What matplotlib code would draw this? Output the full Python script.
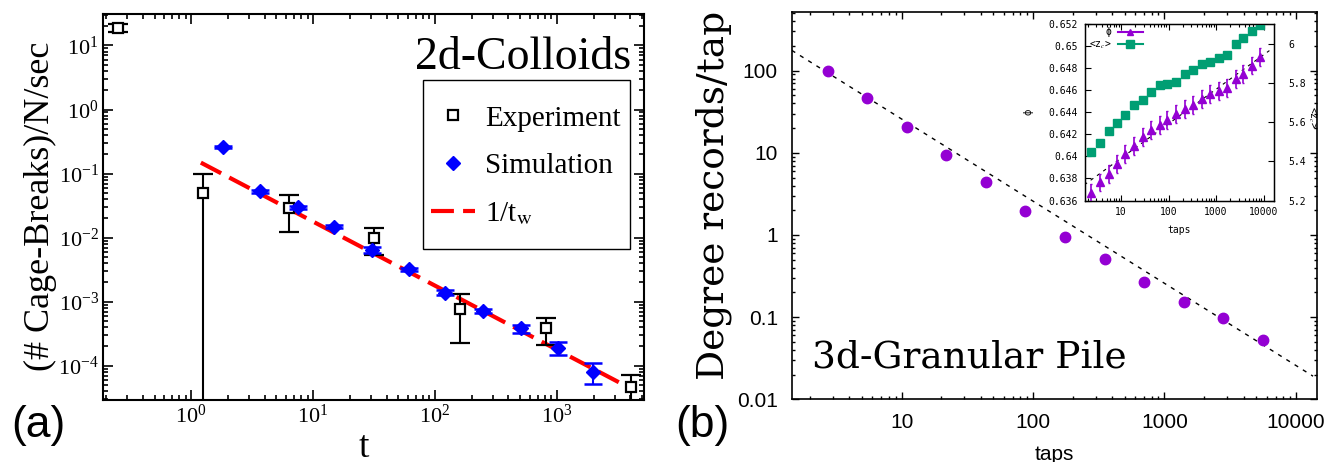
import numpy as np
import matplotlib
matplotlib.use('Agg')
import matplotlib.pyplot as plt
import matplotlib.ticker as ticker
import matplotlib.patches as ptch
from matplotlib.lines import Line2D

# SET DATA
# panel (a): 2d colloids, cage breaks per particle per second
exp_t = [0.249, 1.24, 6.3, 31.6, 161, 813, 4080]
exp_rate = [19.0, 0.050, 0.0286, 0.00975, 7.8e-4, 3.86e-4, 4.6e-5]
exp_lo = [16.5, 1e-6, 0.0124, 0.0054, 2.28e-4, 2.12e-4, 1e-6]
exp_hi = [21.7, 0.10, 0.046, 0.0141, 1.34e-3, 5.5e-4, 7.2e-5]

sim_t = [1.84, 3.68, 7.45, 14.9, 30.4, 60.6, 121, 247, 505, 1016, 1995]
sim_rate = [0.258, 0.053, 0.030, 0.0148, 0.0064, 0.0032, 0.00139, 7.2e-4, 3.9e-4, 1.9e-4, 8.0e-5]
sim_lo = [0.250, 0.050, 0.0285, 0.0140, 0.0057, 0.0030, 0.00127, 6.7e-4, 3.3e-4, 1.48e-4, 5.2e-5]
sim_hi = [0.266, 0.056, 0.0315, 0.0157, 0.0071, 0.0034, 0.00152, 7.8e-4, 4.4e-4, 2.35e-4, 1.1e-4]

tw_range = [1.2, 4300]   # extent of the 1/t_w guide
tw_amp = 0.178

# panel (b): 3d granular pile, degree records per tap
taps = [2.77, 5.5, 11.0, 21.9, 44, 87.3, 175, 350, 702, 1406, 2794, 5600]
records = [100, 46.9, 20.8, 9.4, 4.37, 1.94, 0.955, 0.506, 0.27, 0.152, 0.097, 0.052]
rec_range = [1.46, 13500]
rec_amp = 258

# inset of (b): packing fraction and mean contact number
in_taps = [2.37, 3.56, 5.55, 8.2, 12.4, 18.9, 28.5, 43, 64.6, 94, 142, 220,
           332, 500, 752, 1133, 1706, 2566, 3740, 5620, 8470]
phi = [0.63672, 0.63763, 0.63842, 0.63929, 0.6402, 0.64095, 0.64174, 0.6424,
       0.64285, 0.6433, 0.64382, 0.64427, 0.64466, 0.64518, 0.64563, 0.64593,
       0.64617, 0.64699, 0.64747, 0.6482, 0.64895]
phi_err = 0.0008
zc = [5.446, 5.493, 5.553, 5.594, 5.637, 5.686, 5.713, 5.756, 5.788, 5.795,
      5.806, 5.846, 5.869, 5.898, 5.906, 5.927, 5.942, 6.0, 6.031, 6.067, 6.097]
phi_fit_range = [1.7, 13200]
phi_fit_a = 0.63670   # phi = a + b*log10(taps)
phi_fit_b = 0.00312

purple = '#9400d3'
green = '#009e73'

# SETUP FIGURE
plt.rcParams['mathtext.fontset'] = 'stix'
plt.rcParams['font.family'] = 'Liberation Serif'
fig = plt.figure(figsize=(13.36, 4.62), dpi=100)

# ---------------- panel (a)
ax1 = fig.add_axes([0.0771, 0.1342, 0.4049, 0.8355])
ax1.set_xscale('log')
ax1.set_yscale('log')
ax1.set_xlim(0.189, 5175)
ax1.set_ylim(2.92e-5, 31)

t_fit = np.array(tw_range)
ax1.plot(t_fit, tw_amp / t_fit, color='#ff0000', lw=3, dashes=(5.5, 2.2), zorder=2)

e_rate = np.array(exp_rate)
e_err = [e_rate - np.array(exp_lo), np.array(exp_hi) - e_rate]
ax1.errorbar(exp_t, exp_rate, yerr=e_err, fmt='s', ms=7, mfc='white', mec='black',
             mew=1.6, ecolor='black', elinewidth=1.5, capsize=7, capthick=1.5,
             zorder=3)

s_rate = np.array(sim_rate)
s_err = [s_rate - np.array(sim_lo), np.array(sim_hi) - s_rate]
ax1.errorbar(sim_t, sim_rate, yerr=s_err, fmt='D', ms=7, mfc='#0000ff', mec='#0000ff',
             ecolor='#0000ff', elinewidth=1.5, capsize=6.5, capthick=1.8,
             zorder=4)

ax1.tick_params(which='both', direction='in', top=True, right=True, width=1.2)
ax1.tick_params(which='major', length=7, labelsize=16, pad=3)
ax1.tick_params(which='minor', length=3.5)
for sp in ax1.spines.values():
    sp.set_linewidth(1.5)

ax1.set_xlabel('t', fontsize=27)
ax1.xaxis.set_label_coords(0.482, -0.148)
ax1.xaxis.label.set_va('baseline')
ax1.set_ylabel('(# Cage-Breaks)/N/sec', fontsize=26)
ax1.yaxis.set_label_coords(-0.115, 0.503)
ax1.yaxis.label.set_va('center')

ax1.text(0.977, 0.857, '2d-Colloids', transform=ax1.transAxes, fontsize=33,
         ha='right', va='baseline')

# legend: marker-only handles, box drawn separately
leg_h1 = [Line2D([], [], ls='none', marker='s', ms=7, mfc='white', mec='black', mew=1.6),
          Line2D([], [], ls='none', marker='D', ms=7, color='#0000ff'),
          Line2D([], [], color='#ff0000', lw=3, dashes=(5.5, 2.2))]
ax1.legend(leg_h1, ['Experiment', 'Simulation', '1/t$_{\\rm w}$'], loc='upper left',
           bbox_to_anchor=(0.606, 0.764), borderaxespad=0, borderpad=0, fontsize=21,
           frameon=False, handlelength=1.5, handletextpad=0.35, labelspacing=0.72)
ax1.add_patch(ptch.Rectangle((0.592, 0.392), 0.382, 0.436, transform=ax1.transAxes,
                             facecolor='white', edgecolor='black', lw=1.0, zorder=5))
ax1.get_legend().set_zorder(6)

# ---------------- panel (b)
ax2 = fig.add_axes([0.5926, 0.1357, 0.3930, 0.8377])
ax2.set_xscale('log')
ax2.set_yscale('log')
ax2.set_xlim(1.46, 14400)
ax2.set_ylim(0.01, 513)

r_fit = np.array(rec_range)
ax2.plot(r_fit, rec_amp / r_fit, color='black', lw=1, dashes=(3, 4), zorder=2)
ax2.plot(taps, records, 'o', ms=7.5, color=purple, zorder=3)

fmt_g = ticker.FuncFormatter(lambda v, p: '%g' % v)
ax2.xaxis.set_major_formatter(fmt_g)
ax2.yaxis.set_major_formatter(fmt_g)
ax2.tick_params(which='both', direction='in', top=True, right=True, width=1)
ax2.tick_params(which='major', length=5, labelsize=15, pad=10)
ax2.tick_params(which='minor', length=2.5)
for lab in ax2.get_xticklabels() + ax2.get_yticklabels():
    lab.set_family('Liberation Sans')
for sp in ax2.spines.values():
    sp.set_linewidth(1.2)

ax2.set_xlabel('taps', fontsize=15, family='Liberation Sans')
ax2.xaxis.set_label_coords(0.5, -0.142)
ax2.xaxis.label.set_va('center')
ax2.set_ylabel('Degree records/tap', fontsize=27, family='DejaVu Serif')
ax2.yaxis.set_label_coords(-0.148, 0.528)
ax2.yaxis.label.set_va('center')

ax2.text(0.038, 0.082, '3d-Granular Pile', transform=ax2.transAxes, fontsize=27,
         family='DejaVu Serif', ha='left', va='baseline')

# ---------------- inset
ax3 = fig.add_axes([0.8121, 0.566, 0.1415, 0.383])
ax3r = ax3.twinx()
ax3.set_xscale('log')
ax3.set_xlim(1.75, 16500)
ax3.set_ylim(0.636, 0.652)
ax3r.set_ylim(5.2, 6.104)

p_fit = np.array(phi_fit_range)
ax3.plot(p_fit, phi_fit_a + phi_fit_b * np.log10(p_fit), color='black', lw=0.8,
         dashes=(3, 4), zorder=2)
ax3.errorbar(in_taps, phi, yerr=phi_err, fmt='^', ms=5.5, color=purple, elinewidth=1.2,
             capsize=1, zorder=3)
ax3r.plot(in_taps, zc, 's', ms=5.5, color=green)

small = {'family': 'DejaVu Sans Mono', 'size': 7}
ax3.yaxis.set_major_locator(ticker.MultipleLocator(0.002))
ax3.yaxis.set_major_formatter(ticker.FuncFormatter(lambda v, p: ('%.3f' % v).rstrip('0')))
ax3r.yaxis.set_major_locator(ticker.MultipleLocator(0.2))
ax3r.yaxis.set_major_formatter(ticker.FuncFormatter(lambda v, p: '%g' % round(v, 1)))
ax3.xaxis.set_major_formatter(fmt_g)
ax3.tick_params(which='both', direction='in', top=True, width=0.8)
ax3.tick_params(which='major', length=4, pad=5)
ax3.tick_params(which='minor', length=2)
ax3r.tick_params(direction='in', length=4, width=0.8, pad=10)
for lab in ax3.get_xticklabels() + ax3.get_yticklabels() + ax3r.get_yticklabels():
    lab.set_family('DejaVu Sans Mono')
    lab.set_fontsize(7)
for sp in ax3.spines.values():
    sp.set_linewidth(1.0)

ax3.set_xlabel('taps', **small)
ax3.xaxis.set_label_coords(0.5, -0.14)
ax3.set_ylabel('ϕ', family='DejaVu Sans', fontsize=7)
ax3.yaxis.set_label_coords(-0.27, 0.5)
ax3r.set_ylabel('<z$_c$>', family='DejaVu Sans Mono', fontsize=7, rotation=-90)
ax3r.yaxis.set_label_coords(1.2, 0.47)
ax3r.yaxis.label.set_va('center')

leg_h = [Line2D([], [], color=purple, marker='^', ms=5, lw=1.5),
         Line2D([], [], color=green, marker='s', ms=5.5, lw=1.5)]
ax3.legend(leg_h, ['ϕ', '<z$_c$>'], loc='upper left', bbox_to_anchor=(0.0, 1.0),
           frameon=False, markerfirst=False, handlelength=2.6, handletextpad=0.6,
           labelspacing=0.2, borderaxespad=0.2, borderpad=0.2,
           prop={'family': 'DejaVu Sans Mono', 'size': 7})

# ---------------- panel tags
fig.text(0.0289, 0.080, '(a)', fontsize=32, family='Liberation Sans', ha='center',
         va='center')
fig.text(0.526, 0.080, '(b)', fontsize=32, family='Liberation Sans', ha='center',
         va='center')

fig.savefig('out.png', dpi=100)
